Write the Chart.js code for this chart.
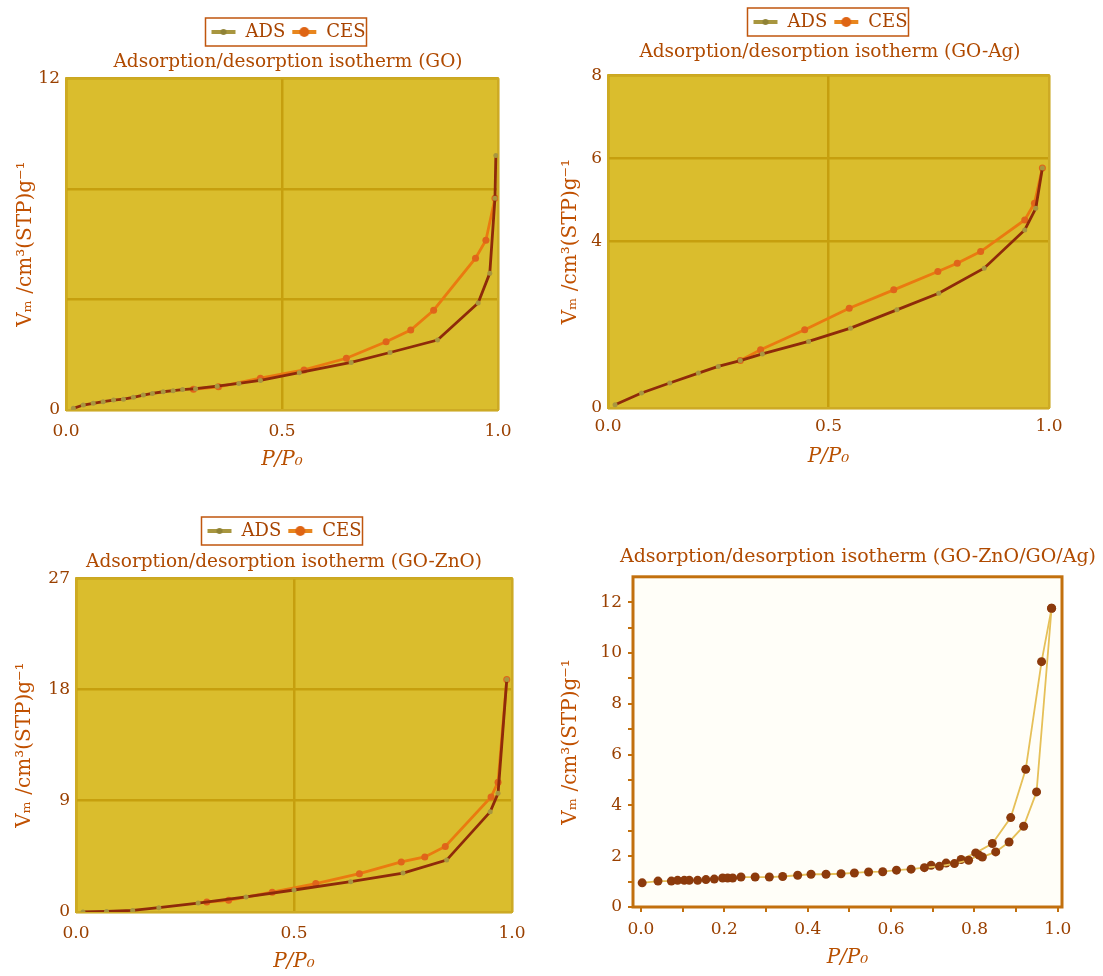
<!DOCTYPE html>
<html>
<head>
<meta charset="utf-8">
<script src="https://cdn.jsdelivr.net/npm/chart.js@4.4.1/dist/chart.umd.min.js"></script>
<style>
  body { margin: 0; background: #ffffff; overflow: hidden; }
  .panel { position: absolute; }
</style>
</head>
<body>
<div class="panel" style="left:0px;top:0px;width:562px;height:480px"><canvas id="goChart"></canvas></div>
<div class="panel" style="left:550px;top:0px;width:553px;height:480px"><canvas id="goAgChart"></canvas></div>
<div class="panel" style="left:0px;top:490px;width:555px;height:486px"><canvas id="goZnoChart"></canvas></div>
<div class="panel" style="left:550px;top:530px;width:607px;height:446px"><canvas id="mixChart"></canvas></div>
<script>
// x ticks shared by the three yellow panels
var xTicks = [0, 0.5, 1.0];
var xTickLabels = ['0.0', '0.5', '1.0'];

// GO
var goAdsP = [0.017, 0.04, 0.063, 0.086, 0.11, 0.133, 0.156, 0.179, 0.2, 0.225, 0.248, 0.27, 0.3, 0.35, 0.4, 0.45, 0.54, 0.66, 0.75, 0.86, 0.954, 0.981, 0.993, 0.995];
var goAdsV = [0.06, 0.18, 0.24, 0.3, 0.36, 0.39, 0.46, 0.54, 0.6, 0.66, 0.7, 0.74, 0.77, 0.86, 0.96, 1.07, 1.35, 1.72, 2.08, 2.53, 3.87, 4.95, 7.66, 9.2];
var goCesP = [0.295, 0.353, 0.45, 0.551, 0.649, 0.741, 0.798, 0.851, 0.948, 0.972, 0.993];
var goCesV = [0.75, 0.84, 1.15, 1.45, 1.87, 2.47, 2.89, 3.61, 5.49, 6.14, 7.66];
var goYTicks = [0, 4, 8, 12];
var goYLabels = ['0', '', '', '12'];

// GO-Ag
var goAgAdsP = [0.016, 0.076, 0.14, 0.205, 0.25, 0.3, 0.35, 0.455, 0.55, 0.655, 0.75, 0.853, 0.945, 0.97, 0.985];
var goAgAdsV = [0.08, 0.36, 0.6, 0.84, 1.0, 1.14, 1.3, 1.6, 1.92, 2.36, 2.76, 3.36, 4.28, 4.8, 5.77];
var goAgCesP = [0.3, 0.346, 0.446, 0.547, 0.648, 0.748, 0.792, 0.845, 0.945, 0.967, 0.985];
var goAgCesV = [1.14, 1.4, 1.88, 2.4, 2.84, 3.28, 3.48, 3.76, 4.52, 4.92, 5.77];
var goAgYTicks = [0, 4, 6, 8];
var goAgYLabels = ['0', '4', '6', '8'];

// GO-ZnO
var goZnoAdsP = [0.016, 0.07, 0.13, 0.19, 0.28, 0.39, 0.5, 0.63, 0.75, 0.85, 0.95, 0.968, 0.988];
var goZnoAdsV = [0, 0.05, 0.13, 0.35, 0.72, 1.22, 1.78, 2.45, 3.15, 4.2, 8.1, 9.6, 18.8];
var goZnoCesP = [0.3, 0.35, 0.45, 0.55, 0.65, 0.746, 0.8, 0.847, 0.952, 0.968, 0.988];
var goZnoCesV = [0.8, 0.95, 1.6, 2.3, 3.1, 4.05, 4.45, 5.3, 9.3, 10.5, 18.8];
var goZnoYTicks = [0, 9, 18, 27];
var goZnoYLabels = ['0', '9', '18', '27'];

// GO-ZnO/GO/Ag
var mixAdsP = [0.003, 0.041, 0.073, 0.088, 0.104, 0.116, 0.136, 0.156, 0.176, 0.196, 0.208, 0.22, 0.24, 0.274, 0.308, 0.34, 0.376, 0.408, 0.444, 0.48, 0.512, 0.546, 0.58, 0.613, 0.648, 0.68, 0.716, 0.752, 0.786, 0.811, 0.819, 0.851, 0.883, 0.918, 0.949, 0.985];
var mixAdsV = [0.95, 1.02, 1.02, 1.05, 1.05, 1.05, 1.05, 1.08, 1.1, 1.14, 1.14, 1.14, 1.18, 1.18, 1.18, 1.2, 1.25, 1.29, 1.29, 1.31, 1.34, 1.38, 1.39, 1.45, 1.49, 1.55, 1.6, 1.71, 1.84, 2.04, 1.97, 2.17, 2.56, 3.18, 4.53, 11.76];
var mixDesP = [0.985, 0.961, 0.923, 0.887, 0.843, 0.803, 0.768, 0.732, 0.696];
var mixDesV = [11.76, 9.66, 5.42, 3.52, 2.5, 2.13, 1.87, 1.73, 1.64];
var mixXTicks = [0, 0.1, 0.2, 0.3, 0.4, 0.5, 0.6, 0.7, 0.8, 0.9, 1.0];
var mixXLabels = ['0.0', '', '0.2', '', '0.4', '', '0.6', '', '0.8', '', '1.0'];
var mixYTicks = [0, 1, 2, 3, 4, 5, 6, 7, 8, 9, 10, 11, 12];
var mixYLabels = ['0', '', '2', '', '4', '', '6', '', '8', '', '10', '', '12'];

var serif = '"DejaVu Serif", serif';
var yTitleText = 'Vₘ /cm³(STP)g⁻¹';
var xTitleText = 'P/P₀';

function pts(p, v) {
  return p.map(function (x, i) { return { x: x, y: v[i] }; });
}

// little line-with-dot picture for the legend
function legendIcon(lineColor, dotColor, r) {
  var c = document.createElement('canvas');
  c.width = 26; c.height = 12;
  var x = c.getContext('2d');
  x.strokeStyle = lineColor;
  x.lineWidth = 4;
  x.beginPath(); x.moveTo(1, 6); x.lineTo(25, 6); x.stroke();
  x.fillStyle = dotColor;
  x.beginPath(); x.arc(13, 6, r, 0, Math.PI * 2); x.fill();
  return c;
}
var adsIcon = legendIcon('#a8963f', '#8f8236', 3);
var cesIcon = legendIcon('#e8861e', '#de6414', 5);

var framePlugin = {
  id: 'frame',
  beforeDraw: function (chart, args, opts) {
    var a = chart.chartArea, ctx = chart.ctx;
    ctx.save();
    ctx.fillStyle = opts.bg;
    ctx.fillRect(a.left, a.top, a.right - a.left, a.bottom - a.top);
    ctx.restore();
  },
  beforeDatasetsDraw: function (chart, args, opts) {
    var a = chart.chartArea, ctx = chart.ctx;
    ctx.save();
    ctx.strokeStyle = opts.border;
    ctx.lineWidth = opts.width;
    ctx.strokeRect(a.left, a.top, a.right - a.left, a.bottom - a.top);
    ctx.restore();
  }
};

// box drawn round the legend items
var legendBoxPlugin = {
  id: 'legendBox',
  afterDraw: function (chart) {
    var lg = chart.legend;
    if (!lg || !lg.options.display || !lg.legendHitBoxes.length) return;
    var l = 1e9, t = 1e9, r = -1e9, b = -1e9;
    lg.legendHitBoxes.forEach(function (h) {
      l = Math.min(l, h.left); t = Math.min(t, h.top);
      r = Math.max(r, h.left + h.width); b = Math.max(b, h.top + h.height);
    });
    var ctx = chart.ctx;
    ctx.save();
    ctx.strokeStyle = '#c0560e';
    ctx.lineWidth = 1.5;
    ctx.strokeRect(l - 5, t - 5, r - l + 6, b - t + 10);
    ctx.restore();
  }
};

function tickSetter(values) {
  return function (scale) {
    scale.ticks = values.map(function (v) { return { value: v }; });
  };
}

// empty right-hand axis, only used to move the centred title and legend
function spacer(w) {
  return {
    position: 'right',
    display: true,
    grid: { display: false },
    border: { display: false },
    ticks: { display: false },
    afterFit: function (s) { s.width = w; }
  };
}

function makeYellow(id, title, adsP, adsV, cesP, cesV, yMax, yTicks, yLabels, g) {
  new Chart(document.getElementById(id), {
    type: 'scatter',
    data: {
      datasets: [{
        label: 'ADS',
        data: pts(adsP, adsV),
        showLine: true,
        borderColor: '#8e2a0a',
        borderWidth: 2.8,
        pointRadius: 2.5,
        pointBackgroundColor: '#a8963f',
        pointBorderWidth: 0,
        icon: adsIcon
      }, {
        label: 'CES',
        data: pts(cesP, cesV),
        showLine: true,
        borderColor: '#ea7a10',
        borderWidth: 2.8,
        pointRadius: 3.5,
        pointBackgroundColor: '#e0641a',
        pointBorderWidth: 0,
        icon: cesIcon
      }]
    },
    options: {
      responsive: true,
      maintainAspectRatio: false,
      animation: false,
      layout: { padding: { left: g.padLeft, right: g.padRight, top: g.padTop, bottom: g.padBottom } },
      plugins: {
        legend: {
          display: true,
          weight: 3000,
          labels: {
            font: { family: serif, size: 18 },
            color: '#a84400',
            usePointStyle: true,
            pointStyleWidth: 26,
            boxHeight: 12,
            padding: 6,
            generateLabels: function (chart) {
              return chart.data.datasets.map(function (ds, i) {
                return { text: ds.label, pointStyle: ds.icon, fillStyle: ds.pointBackgroundColor,
                  strokeStyle: ds.pointBackgroundColor, lineWidth: 0, hidden: false, datasetIndex: i, fontColor: '#a84400' };
              });
            }
          }
        },
        title: {
          display: true,
          text: title,
          color: '#b04a00',
          font: { family: serif, size: 18.5, weight: 'normal' },
          padding: { top: g.titleTop, bottom: g.titleBottom }
        },
        tooltip: { enabled: false },
        frame: { bg: '#dabd2d', border: '#cdaa24', width: 2 }
      },
      scales: {
        x: {
          type: 'linear',
          min: 0,
          max: 1,
          afterBuildTicks: tickSetter(xTicks),
          afterFit: function (s) { s.height = g.xHeight; },
          border: { display: false },
          grid: { color: '#c69f0e', lineWidth: 2.5, drawTicks: false },
          ticks: {
            padding: g.xTickPad,
            color: '#9a4000',
            font: { family: serif, size: 17 },
            maxRotation: 0,
            autoSkip: false,
            callback: function (v, i) { return xTickLabels[i]; }
          },
          title: { display: true, text: xTitleText, color: '#b85000', font: { family: serif, size: 20, style: 'italic' }, padding: 0 }
        },
        y: {
          min: 0,
          max: yMax,
          afterBuildTicks: tickSetter(yTicks),
          afterFit: function (s) { s.width = g.yWidth; },
          border: { display: false },
          grid: { color: '#c69f0e', lineWidth: 2.5, drawTicks: false },
          ticks: {
            padding: 6,
            color: '#9a4000',
            font: { family: serif, size: 17 },
            autoSkip: false,
            callback: function (v, i) { return yLabels[i]; }
          },
          title: { display: true, text: yTitleText, color: '#c05000', font: { family: serif, size: 20 }, padding: 0 }
        },
        yr: spacer(g.spacer)
      }
    },
    plugins: [framePlugin, legendBoxPlugin]
  });
}

makeYellow('goChart', 'Adsorption/desorption isotherm (GO)', goAdsP, goAdsV, goCesP, goCesV, 12, goYTicks, goYLabels,
  { padLeft: 14, padRight: 0, padTop: 17, padBottom: 8, titleTop: 0, titleBottom: 5, xHeight: 62, xTickPad: 11, yWidth: 52, spacer: 64 });
makeYellow('goAgChart', 'Adsorption/desorption isotherm (GO-Ag)', goAgAdsP, goAgAdsV, goAgCesP, goAgCesV, 8, goAgYTicks, goAgYLabels,
  { padLeft: 9, padRight: 2, padTop: 7, padBottom: 11, titleTop: 0, titleBottom: 12, xHeight: 61, xTickPad: 8, yWidth: 49, spacer: 52 });
makeYellow('goZnoChart', 'Adsorption/desorption isotherm (GO-ZnO)', goZnoAdsP, goZnoAdsV, goZnoCesP, goZnoCesV, 27, goZnoYTicks, goZnoYLabels,
  { padLeft: 13, padRight: 0, padTop: 26, padBottom: 2, titleTop: 1, titleBottom: 5, xHeight: 62, xTickPad: 11, yWidth: 63, spacer: 43 });

// white panel
new Chart(document.getElementById('mixChart'), {
  type: 'scatter',
  data: {
    datasets: [{
      label: 'Adsorption',
      data: pts(mixAdsP, mixAdsV),
      showLine: true,
      borderColor: '#e6c058',
      borderWidth: 1.8,
      pointRadius: 4.5,
      pointBackgroundColor: '#8c3a0c',
      pointBorderWidth: 0
    }, {
      label: 'Desorption',
      data: pts(mixDesP, mixDesV),
      showLine: true,
      borderColor: '#e6c058',
      borderWidth: 1.8,
      pointRadius: 4.5,
      pointBackgroundColor: '#8c3a0c',
      pointBorderWidth: 0
    }]
  },
  options: {
    responsive: true,
    maintainAspectRatio: false,
    animation: false,
    layout: { padding: { left: 9, right: 0, top: 0, bottom: 6 } },
    plugins: {
      legend: { display: false },
      title: {
        display: true,
        text: 'Adsorption/desorption isotherm (GO-ZnO/GO/Ag)',
        color: '#b04a00',
        font: { family: serif, size: 19, weight: 'normal' },
        padding: { top: 16, bottom: 8 }
      },
      tooltip: { enabled: false },
      frame: { bg: '#fffef8', border: '#c2700e', width: 3 }
    },
    scales: {
      x: {
        type: 'linear',
        min: -0.019,
        max: 1.01,
        afterBuildTicks: tickSetter(mixXTicks),
        afterFit: function (s) { s.height = 63; },
        border: { display: false },
        grid: { drawOnChartArea: false, drawTicks: true, tickLength: 5, color: '#c2700e', lineWidth: 2 },
        ticks: {
          padding: 7,
          color: '#9a4000',
          font: { family: serif, size: 17 },
          maxRotation: 0,
          autoSkip: false,
          callback: function (v, i) { return mixXLabels[i]; }
        },
        title: { display: true, text: xTitleText, color: '#b85000', font: { family: serif, size: 20, style: 'italic' }, padding: 0 }
      },
      y: {
        min: 0,
        max: 13,
        afterBuildTicks: tickSetter(mixYTicks),
        afterFit: function (s) { s.width = 74; },
        border: { display: false },
        grid: { drawOnChartArea: false, drawTicks: true, tickLength: 5, color: '#c2700e', lineWidth: 2 },
        ticks: {
          padding: 6,
          color: '#9a4000',
          font: { family: serif, size: 17 },
          autoSkip: false,
          callback: function (v, i) { return mixYLabels[i]; }
        },
        title: { display: true, text: yTitleText, color: '#c05000', font: { family: serif, size: 20 }, padding: 0 }
      },
      yr: spacer(95)
    }
  },
  plugins: [framePlugin]
});
</script>
</body>
</html>
